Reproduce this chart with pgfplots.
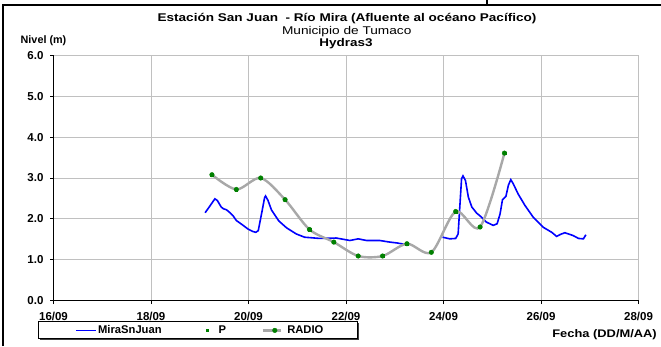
\documentclass[border=0pt]{standalone}
\usepackage{fontspec}
\setmainfont{Liberation Sans}
\usepackage{pgfplots}
\pgfplotsset{compat=1.18}
\definecolor{gridgray}{RGB}{192,192,192}
\definecolor{radiogray}{RGB}{168,168,168}
\definecolor{ptgreen}{RGB}{0,128,0}
\pgfplotsset{
  legline/.style={legend image code/.code={\draw[##1] (0bp,0bp) -- (20bp,0bp);}},
  legP/.style={legend image code/.code={\path[draw=none,fill=none] (0bp,0bp) -- (20bp,0bp); \draw[mark repeat=2,mark phase=2,##1] plot coordinates {(0bp,0bp) (10bp,0bp) (20bp,0bp)};}},
  legR/.style={legend image code/.code={\path[draw=none,fill=none] (0bp,0bp) -- (23bp,0bp); \draw[mark repeat=2,mark phase=2,##1] plot coordinates {(0bp,0bp) (12bp,0bp) (18bp,0bp)};}},
}
\begin{document}
\begin{tikzpicture}[x=1bp,y=1bp]
\useasboundingbox (0,0) rectangle (661,346);
\draw[line width=2bp] (3,0) -- (3,341) -- (661,341);
\draw[line width=1.2bp] (487,341) -- (487,346);
\node[inner sep=0pt,xscale=1.21,transform shape,font=\fontsize{11.2bp}{13bp}\selectfont\bfseries] at (347,327.8) {Estación San Juan\ \ - Río Mira (Afluente al océano Pacífico)};
\node[inner sep=0pt,xscale=1.22,transform shape,font=\fontsize{11.2bp}{13bp}\selectfont] at (346.7,314.6) {Municipio de Tumaco};
\node[inner sep=0pt,xscale=1.2,transform shape,font=\fontsize{11.2bp}{13bp}\selectfont\bfseries] at (346,302.6) {Hydras3};
\node[inner sep=0pt,anchor=west,font=\fontsize{10.8bp}{13bp}\selectfont\bfseries] at (20.5,305.5) {Nivel (m)};
\node[inner sep=0pt,anchor=east,xscale=1.17,transform shape,font=\fontsize{11bp}{13bp}\selectfont\bfseries] at (657,11.5) {Fecha (DD/M/AA)};
% legend frame with shadow
\fill[black!75] (39.5,6.2) rectangle (358.5,22.8);
\draw[line width=0.8bp, fill=white] (38,7.7) rectangle (357,24.3);
\begin{axis}[
  name=ax,
  scale only axis, width=585bp, height=245bp,
  at={(53.5bp,45.5bp)}, anchor=south west,
  xmin=16, xmax=28, ymin=0, ymax=6,
  xtick={16,18,...,28},
  xticklabels={16/09,18/09,20/09,22/09,24/09,26/09,28/09},
  ytick={0,1,...,6},
  grid=major, grid style={gridgray, line width=0.9bp},
  axis x line*=bottom, axis y line*=left,
  axis line style={black, line width=0.9bp, -},
  tick align=outside, major tick length=3.5bp,
  tick style={black, line width=0.8bp},
  tick label style={font=\fontsize{11.5bp}{13bp}\selectfont\bfseries},
  y tick label style={/pgf/number format/fixed, /pgf/number format/fixed zerofill, /pgf/number format/precision=1, /pgf/number format/assume math mode=true, xshift=-3bp},
  xticklabel style={yshift=-4.5bp},
  unbounded coords=jump,
  legend columns=3,
  legend style={at={(0.2504,-0.122)}, anchor=center, draw=none, fill=none,
    font=\fontsize{11.2bp}{13bp}\selectfont\bfseries, inner sep=0pt,
    nodes={inner sep=1.5bp},
    /tikz/every even column/.append style={column sep=34bp}},
]
\addplot[blue, line width=1.6bp, no marks, legline] coordinates {
(19.11,2.15) (19.20,2.30) (19.31,2.49) (19.36,2.45) (19.44,2.29) (19.48,2.25) (19.55,2.22) (19.61,2.16) (19.68,2.08) (19.75,1.96) (19.89,1.84) (19.99,1.75) (20.09,1.69) (20.15,1.67) (20.20,1.71) (20.28,2.20) (20.33,2.52) (20.35,2.56) (20.40,2.45) (20.47,2.22) (20.62,1.95) (20.78,1.78) (20.98,1.63) (21.15,1.55) (21.46,1.52) (21.80,1.53) (21.94,1.50) (22.08,1.47) (22.25,1.51) (22.42,1.47) (22.69,1.47) (22.90,1.43) (23.04,1.41) (23.24,1.37)
(23.6,nan)
(23.98,1.55) (24.13,1.51) (24.25,1.52) (24.30,1.63) (24.37,2.98) (24.40,3.05) (24.45,2.94) (24.51,2.53) (24.58,2.29) (24.68,2.14) (24.78,2.04) (24.88,1.92) (25.02,1.84) (25.10,1.88) (25.16,2.12) (25.21,2.47) (25.28,2.55) (25.33,2.82) (25.38,2.96) (25.43,2.86) (25.53,2.61) (25.67,2.33) (25.84,2.04) (26.05,1.79) (26.22,1.67) (26.32,1.57) (26.40,1.62) (26.49,1.66) (26.66,1.59) (26.77,1.52) (26.87,1.51) (26.92,1.61)
};
\addlegendentry{MiraSnJuan}
\addplot[only marks, mark=square*, mark size=1.3bp, color=ptgreen, legP] coordinates {
(19.25,3.08) (19.75,2.72) (20.25,3.00) (20.75,2.47) (21.25,1.74) (21.75,1.43) (22.25,1.09) (22.75,1.09) (23.25,1.39) (23.75,1.18) (24.25,2.18) (24.75,1.80) (25.25,3.61)
};
\addlegendentry{P}
\addplot[radiogray, line width=2.4bp, smooth, mark=*, mark size=2.3bp,
  mark options={draw=ptgreen, fill=ptgreen, line width=0.4bp}, legR] coordinates {
(19.25,3.08) (19.75,2.72) (20.25,3.00) (20.75,2.47) (21.25,1.74) (21.75,1.43) (22.25,1.09) (22.75,1.09) (23.25,1.39) (23.75,1.18) (24.25,2.18) (24.75,1.80) (25.25,3.61)
};
\addlegendentry{RADIO}
\end{axis}
\end{tikzpicture}
\end{document}
